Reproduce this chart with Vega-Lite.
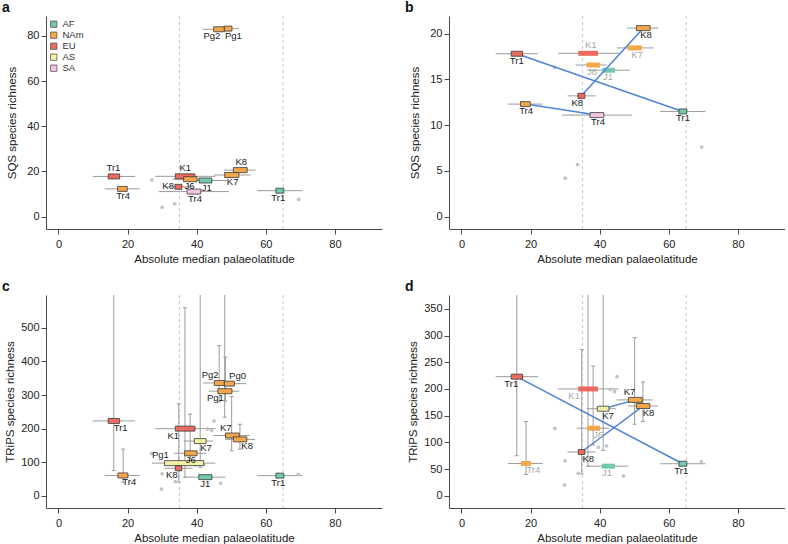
{
"$schema":"https://vega.github.io/schema/vega-lite/v6.json",
"background":"white",
"padding":{"left":2,"top":0,"right":0,"bottom":0},
"config":{"view":{"stroke":null},"font":"Liberation Sans",
 "axis":{"grid":false,"domainColor":"#4a4a4a","domainWidth":1,"tickColor":"#4a4a4a","tickSize":5,"labelColor":"#222","titleColor":"#222","labelFont":"Liberation Sans","titleFont":"Liberation Sans","labelFontSize":11,"titleFontSize":11.5,"titleFontWeight":"normal","labelFlush":false,"labelOverlap":false},
 "title":{"font":"Liberation Sans","fontSize":14,"fontWeight":"bold","color":"#111"},
 "text":{"font":"Liberation Sans"}},
"datasets":{
 "vref":[{"v":35},{"v":65}],
 "items":[
  {"p":"a","r":"EU","lab":"Tr1","y":17.8,"b1":14.4,"b2":17.7,"w1":9.9,"w2":22.2,"st":"h","lx":15.9,"pos":"above"},
  {"p":"a","r":"NAm","lab":"Tr4","y":12.3,"b1":17.1,"b2":19.9,"w1":13.4,"w2":23.5,"st":"h","lx":18.7,"pos":"below"},
  {"p":"a","r":"SA","lab":"Tr4","y":11.1,"b1":37.2,"b2":41.2,"w1":29.0,"w2":49.3,"st":"h","lx":39.5,"pos":"below"},
  {"p":"a","r":"AF","lab":"Tr1","y":11.5,"b1":62.9,"b2":65.2,"w1":57.5,"w2":70.6,"st":"h","lx":63.6,"pos":"below"},
  {"p":"a","r":"EU","lab":"K1","y":17.85,"b1":33.8,"b2":39.5,"w1":28.0,"w2":45.5,"st":"h","lx":36.7,"pos":"above"},
  {"p":"a","r":"NAm","lab":"J6","y":16.57,"b1":36.2,"b2":40.1,"w1":33.0,"w2":42.0,"st":"h","lx":37.9,"pos":"below"},
  {"p":"a","r":"AF","lab":"J1","y":16.0,"b1":40.7,"b2":44.4,"w1":36.4,"w2":48.7,"st":"h","lx":42.9,"pos":"below"},
  {"p":"a","r":"EU","lab":"K8","y":13.2,"b1":33.7,"b2":35.7,"w1":30.7,"w2":38.8,"st":"h","lx":33.7,"pos":"left"},
  {"p":"a","r":"NAm","lab":"K7","y":18.44,"b1":48.1,"b2":52.2,"w1":45.0,"w2":55.6,"st":"h","lx":50.4,"pos":"below"},
  {"p":"a","r":"NAm","lab":"K8","y":20.6,"b1":50.6,"b2":54.6,"w1":47.9,"w2":57.0,"st":"h","lx":52.9,"pos":"above"},
  {"p":"a","r":"NAm","lab":"Pg2","y":82.9,"b1":44.9,"b2":48.0,"w1":41.7,"w2":48.0,"st":"h","lx":44.4,"pos":"below"},
  {"p":"a","r":"NAm","lab":"Pg1","y":83.2,"b1":48.0,"b2":50.2,"w1":45.0,"w2":52.3,"st":"h","lx":50.6,"pos":"below"},

  {"p":"b","r":"EU","lab":"K1","y":17.85,"b1":33.8,"b2":39.5,"w1":28.0,"w2":45.5,"st":"f","lx":37.4,"pos":"above"},
  {"p":"b","r":"NAm","lab":"K7","y":18.44,"b1":48.1,"b2":52.2,"w1":45.0,"w2":55.6,"st":"f","lx":50.8,"pos":"below"},
  {"p":"b","r":"NAm","lab":"J6","y":16.57,"b1":36.2,"b2":40.1,"w1":33.0,"w2":42.0,"st":"f","lx":37.8,"pos":"below"},
  {"p":"b","r":"AF","lab":"J1","y":16.0,"b1":40.7,"b2":44.4,"w1":36.4,"w2":48.7,"st":"f","lx":42.4,"pos":"below"},
  {"p":"b","r":"EU","lab":"Tr1","y":17.8,"b1":14.4,"b2":17.7,"w1":9.9,"w2":22.2,"st":"h","lx":16.0,"pos":"below"},
  {"p":"b","r":"NAm","lab":"Tr4","y":12.3,"b1":17.1,"b2":19.9,"w1":13.4,"w2":23.5,"st":"h","lx":18.7,"pos":"below"},
  {"p":"b","r":"SA","lab":"Tr4","y":11.1,"b1":37.2,"b2":41.2,"w1":29.0,"w2":49.3,"st":"h","lx":39.5,"pos":"below"},
  {"p":"b","r":"AF","lab":"Tr1","y":11.5,"b1":62.9,"b2":65.2,"w1":57.5,"w2":70.6,"st":"h","lx":64.1,"pos":"below"},
  {"p":"b","r":"EU","lab":"K8","y":13.2,"b1":33.7,"b2":35.7,"w1":30.7,"w2":38.8,"st":"h","lx":33.5,"pos":"below"},
  {"p":"b","r":"NAm","lab":"K8","y":20.6,"b1":50.6,"b2":54.6,"w1":47.9,"w2":57.0,"st":"h","lx":53.4,"pos":"below"},

  {"p":"c","r":"EU","lab":"Tr1","y":223,"b1":14.4,"b2":17.7,"w1":9.9,"w2":22.2,"vx":16.0,"v1":75,"v2":620,"st":"h","lx":18.0,"pos":"below"},
  {"p":"c","r":"NAm","lab":"Tr4","y":60.5,"b1":17.2,"b2":20.1,"w1":13.4,"w2":23.5,"vx":18.7,"v1":40,"v2":139,"st":"h","lx":20.5,"pos":"below"},
  {"p":"c","r":"EU","lab":"K1","y":200,"b1":33.8,"b2":39.5,"w1":28.0,"w2":45.5,"vx":36.6,"v1":55,"v2":560,"st":"h","lx":33.2,"pos":"below"},
  {"p":"c","r":"AS","lab":"K7","y":163,"b1":39.3,"b2":42.7,"w1":36.2,"w2":44.7,"vx":41.0,"v1":85,"v2":620,"st":"h","lx":42.7,"pos":"below"},
  {"p":"c","r":"NAm","lab":"J6","y":126.5,"b1":36.5,"b2":40.1,"w1":33.4,"w2":42.7,"vx":38.1,"v1":95,"v2":243,"st":"h","lx":38.3,"pos":"below"},
  {"p":"c","r":"AS","lab":"Pg1","y":97.3,"b1":30.7,"b2":42.0,"w1":27.0,"w2":45.4,"st":"h","lx":29.5,"pos":"above"},
  {"p":"c","r":"EU","lab":"K8","y":82,"b1":33.8,"b2":35.7,"w1":30.7,"w2":38.8,"vx":34.8,"v1":41,"v2":274,"st":"h","lx":32.8,"pos":"below"},
  {"p":"c","r":"AF","lab":"J1","y":55.5,"b1":40.6,"b2":44.4,"w1":36.5,"w2":48.3,"st":"h","lx":42.5,"pos":"below"},
  {"p":"c","r":"NAm","lab":"K7","y":179.5,"b1":48.3,"b2":52.3,"w1":44.9,"w2":55.3,"vx":50.1,"v1":134,"v2":296,"st":"h","lx":48.4,"pos":"above"},
  {"p":"c","r":"NAm","lab":"K8","y":168,"b1":50.6,"b2":54.5,"w1":48.2,"w2":56.9,"vx":52.5,"v1":139,"v2":213,"st":"h","lx":54.6,"pos":"below"},
  {"p":"c","r":"AF","lab":"Tr1","y":60,"b1":62.9,"b2":65.2,"w1":57.5,"w2":70.6,"st":"h","lx":63.6,"pos":"below"},
  {"p":"c","r":"NAm","lab":"Pg2","y":336,"b1":45.1,"b2":48.0,"w1":41.8,"w2":48.2,"vx":46.5,"v1":280,"v2":447,"st":"h","lx":43.9,"pos":"above"},
  {"p":"c","r":"NAm","lab":"Pg0","y":334,"b1":48.0,"b2":50.9,"w1":46.3,"w2":54.3,"vx":48.1,"v1":234,"v2":620,"st":"h","lx":51.8,"pos":"above"},
  {"p":"c","r":"NAm","lab":"Pg1","y":311.5,"b1":46.1,"b2":50.2,"w1":43.5,"w2":52.3,"vx":48.3,"v1":282,"v2":413,"st":"h","lx":45.4,"pos":"below"},

  {"p":"d","r":"NAm","lab":"Tr4","y":60.5,"b1":17.2,"b2":20.1,"w1":13.4,"w2":23.5,"vx":18.7,"v1":40,"v2":139,"st":"f","lx":20.8,"pos":"below"},
  {"p":"d","r":"EU","lab":"K1","y":200,"b1":33.8,"b2":39.5,"w1":28.0,"w2":45.5,"vx":36.6,"v1":55,"v2":560,"st":"f","lx":32.6,"pos":"below"},
  {"p":"d","r":"NAm","lab":"J6","y":126.5,"b1":36.5,"b2":40.1,"w1":33.4,"w2":42.7,"vx":38.1,"v1":95,"v2":243,"st":"f","lx":39.6,"pos":"below"},
  {"p":"d","r":"AF","lab":"J1","y":55.5,"b1":40.6,"b2":44.4,"w1":36.5,"w2":48.3,"st":"f","lx":42.1,"pos":"below"},
  {"p":"d","r":"EU","lab":"Tr1","y":223,"b1":14.4,"b2":17.7,"w1":9.9,"w2":22.2,"vx":16.0,"v1":75,"v2":620,"st":"h","lx":14.4,"pos":"below"},
  {"p":"d","r":"EU","lab":"K8","y":82,"b1":33.8,"b2":35.7,"w1":30.7,"w2":38.8,"vx":34.8,"v1":41,"v2":274,"st":"h","lx":36.7,"pos":"below"},
  {"p":"d","r":"AS","lab":"K7","y":163,"b1":39.3,"b2":42.7,"w1":36.2,"w2":44.7,"vx":41.0,"v1":85,"v2":620,"st":"h","lx":42.4,"pos":"below"},
  {"p":"d","r":"NAm","lab":"K7","y":179.5,"b1":48.3,"b2":52.3,"w1":44.9,"w2":55.3,"vx":50.1,"v1":134,"v2":296,"st":"h","lx":48.6,"pos":"above"},
  {"p":"d","r":"NAm","lab":"K8","y":168,"b1":50.6,"b2":54.5,"w1":48.2,"w2":56.9,"vx":52.5,"v1":139,"v2":213,"st":"h","lx":54.1,"pos":"below"},
  {"p":"d","r":"AF","lab":"Tr1","y":60,"b1":62.9,"b2":65.2,"w1":57.5,"w2":70.6,"st":"h","lx":63.6,"pos":"below"}
 ],
 "pts":[
  {"g":"s","x":27.0,"y":16.3},{"g":"s","x":30.0,"y":4.2},{"g":"s","x":33.6,"y":5.7},{"g":"s","x":69.5,"y":7.6},
  {"g":"t","x":27.0,"y":126},{"g":"t","x":30.0,"y":65.5},{"g":"t","x":29.8,"y":20},{"g":"t","x":33.8,"y":42},
  {"g":"t","x":39.6,"y":91},{"g":"t","x":42.0,"y":93.5},{"g":"t","x":43.1,"y":199},{"g":"t","x":44.3,"y":195},
  {"g":"t","x":45.0,"y":223},{"g":"t","x":46.9,"y":37},{"g":"t","x":69.4,"y":64}
 ],
 "links":[
  {"p":"b","g":"Tr1","x":16.0,"y":17.8},{"p":"b","g":"Tr1","x":64.0,"y":11.5},
  {"p":"b","g":"Tr4","x":18.5,"y":12.3},{"p":"b","g":"Tr4","x":39.2,"y":11.1},
  {"p":"b","g":"K8","x":34.7,"y":13.2},{"p":"b","g":"K8","x":52.6,"y":20.6},
  {"p":"d","g":"Tr1","x":16.0,"y":223},{"p":"d","g":"Tr1","x":64.0,"y":60},
  {"p":"d","g":"K8","x":34.7,"y":82},{"p":"d","g":"K8","x":52.5,"y":168},
  {"p":"d","g":"K7","x":41.0,"y":163},{"p":"d","g":"K7","x":50.3,"y":179.5}
 ]
},
"columns":2,
"spacing":{"row":66,"column":67},
"bounds":"flush",
"resolve":{"scale":{"color":"independent"}},
"concat":[
 {"width":336,"height":213,
  "title":{"text":"a","anchor":"start","frame":"group","dx":-44,"offset":-10,"baseline":"alphabetic"},
  "layer":[
   {"data":{"name":"items"},"transform":[{"filter":"datum.p=='a'"}],"mark":{"type":"rule","color":"#9c9c9c","strokeWidth":1},
    "encoding":{"x":{"field":"w1","type":"quantitative","scale":{"domain":[-3.6,93.6],"nice":false,"zero":false},"axis":{"values":[0,20,40,60,80],"title":"Absolute median palaeolatitude","labelPadding":4,"titlePadding":4}},"x2":{"field":"w2"},
     "y":{"field":"y","type":"quantitative","scale":{"domain":[-3.24,86.56],"nice":false,"zero":false},"axis":{"values":[0,20,40,60,80],"title":"SQS species richness","labelPadding":2,"titlePadding":9}}}},
   {"data":{"name":"vref"},"mark":{"type":"rule","color":"#c8c8c8","strokeDash":[3,3],"strokeWidth":1},"encoding":{"x":{"field":"v","type":"quantitative","scale":{"domain":[-3.6,93.6],"nice":false,"zero":false},"axis":{"values":[0,20,40,60,80],"title":"Absolute median palaeolatitude","labelPadding":4,"titlePadding":4}}}},
   {"data":{"name":"pts"},"transform":[{"filter":"datum.g=='s'"}],"mark":{"type":"circle","size":14,"color":"#c4c4c4","opacity":1},
    "encoding":{"x":{"field":"x","type":"quantitative","scale":{"domain":[-3.6,93.6],"nice":false,"zero":false},"axis":{"values":[0,20,40,60,80],"title":"Absolute median palaeolatitude","labelPadding":4,"titlePadding":4}},"y":{"field":"y","type":"quantitative","scale":{"domain":[-3.24,86.56],"nice":false,"zero":false},"axis":{"values":[0,20,40,60,80],"title":"SQS species richness","labelPadding":2,"titlePadding":9}}}},
   {"data":{"name":"items"},"transform":[{"filter":"datum.p=='a' && datum.st=='h'"}],"mark":{"type":"bar","size":5,"stroke":"#3a3a3a","strokeWidth":0.8},
    "encoding":{"x":{"field":"b1","type":"quantitative","scale":{"domain":[-3.6,93.6],"nice":false,"zero":false},"axis":{"values":[0,20,40,60,80],"title":"Absolute median palaeolatitude","labelPadding":4,"titlePadding":4}},"x2":{"field":"b2"},"y":{"field":"y","type":"quantitative","scale":{"domain":[-3.24,86.56],"nice":false,"zero":false},"axis":{"values":[0,20,40,60,80],"title":"SQS species richness","labelPadding":2,"titlePadding":9}},
     "color":{"field":"r","type":"nominal","scale":{"domain":["AF","NAm","EU","AS","SA"],"range":["#72c9b2","#f5a64a","#ec6a60","#f2f0a4","#f3c6e1"]},
      "legend":{"title":null,"orient":"top-left","offset":3,"padding":0,"symbolType":"square","symbolSize":40,"symbolStrokeColor":"#555","symbolStrokeWidth":0.8,"labelFontSize":9.5,"labelColor":"#333","labelFont":"Liberation Sans","rowPadding":0,"clipHeight":10.4,"labelOffset":4}}}},
   {"data":{"name":"items"},"transform":[{"filter":"datum.p=='a' && datum.pos=='below'"}],"mark":{"type":"text","baseline":"top","dy":2,"fontSize":9.5},
    "encoding":{"x":{"field":"lx","type":"quantitative","scale":{"domain":[-3.6,93.6],"nice":false,"zero":false},"axis":{"values":[0,20,40,60,80],"title":"Absolute median palaeolatitude","labelPadding":4,"titlePadding":4}},"y":{"field":"y","type":"quantitative","scale":{"domain":[-3.24,86.56],"nice":false,"zero":false},"axis":{"values":[0,20,40,60,80],"title":"SQS species richness","labelPadding":2,"titlePadding":9}},"text":{"field":"lab"},"fill":{"field":"st","type":"nominal","scale":{"domain":["h","f"],"range":["#1a1a1a","#a8a8a8"]},"legend":null}}},
   {"data":{"name":"items"},"transform":[{"filter":"datum.p=='a' && datum.pos=='above'"}],"mark":{"type":"text","baseline":"bottom","dy":-3,"fontSize":9.5},
    "encoding":{"x":{"field":"lx","type":"quantitative","scale":{"domain":[-3.6,93.6],"nice":false,"zero":false},"axis":{"values":[0,20,40,60,80],"title":"Absolute median palaeolatitude","labelPadding":4,"titlePadding":4}},"y":{"field":"y","type":"quantitative","scale":{"domain":[-3.24,86.56],"nice":false,"zero":false},"axis":{"values":[0,20,40,60,80],"title":"SQS species richness","labelPadding":2,"titlePadding":9}},"text":{"field":"lab"},"fill":{"field":"st","type":"nominal","scale":{"domain":["h","f"],"range":["#1a1a1a","#a8a8a8"]},"legend":null}}},
   {"data":{"name":"items"},"transform":[{"filter":"datum.p=='a' && datum.pos=='left'"}],"mark":{"type":"text","align":"right","baseline":"middle","dx":-1,"dy":-1,"fontSize":9.5},
    "encoding":{"x":{"field":"lx","type":"quantitative","scale":{"domain":[-3.6,93.6],"nice":false,"zero":false},"axis":{"values":[0,20,40,60,80],"title":"Absolute median palaeolatitude","labelPadding":4,"titlePadding":4}},"y":{"field":"y","type":"quantitative","scale":{"domain":[-3.24,86.56],"nice":false,"zero":false},"axis":{"values":[0,20,40,60,80],"title":"SQS species richness","labelPadding":2,"titlePadding":9}},"text":{"field":"lab"},"fill":{"field":"st","type":"nominal","scale":{"domain":["h","f"],"range":["#1a1a1a","#a8a8a8"]},"legend":null}}}
  ]},
 {"width":336,"height":213,
  "title":{"text":"b","anchor":"start","frame":"group","dx":-44,"offset":-10,"baseline":"alphabetic"},
  "layer":[
   {"data":{"name":"items"},"transform":[{"filter":"datum.p=='b'"}],"mark":{"type":"rule","color":"#9c9c9c","strokeWidth":1},
    "encoding":{"x":{"field":"w1","type":"quantitative","scale":{"domain":[-3.6,93.6],"nice":false,"zero":false},"axis":{"values":[0,20,40,60,80],"title":"Absolute median palaeolatitude","labelPadding":4,"titlePadding":4}},"x2":{"field":"w2"},
     "y":{"field":"y","type":"quantitative","scale":{"domain":[-0.8,21.38],"nice":false,"zero":false},"axis":{"values":[0,5,10,15,20],"title":"SQS species richness","labelPadding":2,"titlePadding":9}}}},
   {"data":{"name":"vref"},"mark":{"type":"rule","color":"#c8c8c8","strokeDash":[3,3],"strokeWidth":1},"encoding":{"x":{"field":"v","type":"quantitative","scale":{"domain":[-3.6,93.6],"nice":false,"zero":false},"axis":{"values":[0,20,40,60,80],"title":"Absolute median palaeolatitude","labelPadding":4,"titlePadding":4}}}},
   {"data":{"name":"pts"},"transform":[{"filter":"datum.g=='s'"}],"mark":{"type":"circle","size":14,"color":"#c4c4c4","opacity":1},
    "encoding":{"x":{"field":"x","type":"quantitative","scale":{"domain":[-3.6,93.6],"nice":false,"zero":false},"axis":{"values":[0,20,40,60,80],"title":"Absolute median palaeolatitude","labelPadding":4,"titlePadding":4}},"y":{"field":"y","type":"quantitative","scale":{"domain":[-0.8,21.38],"nice":false,"zero":false},"axis":{"values":[0,5,10,15,20],"title":"SQS species richness","labelPadding":2,"titlePadding":9}}}},
   {"data":{"name":"items"},"transform":[{"filter":"datum.p=='b' && datum.st=='f'"}],"mark":{"type":"bar","size":5},
    "encoding":{"x":{"field":"b1","type":"quantitative","scale":{"domain":[-3.6,93.6],"nice":false,"zero":false},"axis":{"values":[0,20,40,60,80],"title":"Absolute median palaeolatitude","labelPadding":4,"titlePadding":4}},"x2":{"field":"b2"},"y":{"field":"y","type":"quantitative","scale":{"domain":[-0.8,21.38],"nice":false,"zero":false},"axis":{"values":[0,5,10,15,20],"title":"SQS species richness","labelPadding":2,"titlePadding":9}},
     "color":{"field":"r","type":"nominal","scale":{"domain":["AF","NAm","EU","AS","SA"],"range":["#72c9b2","#f5a64a","#ec6a60","#f2f0a4","#f3c6e1"]},"legend":null}}},
   {"data":{"name":"links"},"transform":[{"filter":"datum.p=='b'"}],"mark":{"type":"line","color":"#4d84d6","strokeWidth":1.5},
    "encoding":{"x":{"field":"x","type":"quantitative","scale":{"domain":[-3.6,93.6],"nice":false,"zero":false},"axis":{"values":[0,20,40,60,80],"title":"Absolute median palaeolatitude","labelPadding":4,"titlePadding":4}},"y":{"field":"y","type":"quantitative","scale":{"domain":[-0.8,21.38],"nice":false,"zero":false},"axis":{"values":[0,5,10,15,20],"title":"SQS species richness","labelPadding":2,"titlePadding":9}},"detail":{"field":"g"}}},
   {"data":{"name":"items"},"transform":[{"filter":"datum.p=='b' && datum.st=='h'"}],"mark":{"type":"bar","size":5,"stroke":"#3a3a3a","strokeWidth":0.8},
    "encoding":{"x":{"field":"b1","type":"quantitative","scale":{"domain":[-3.6,93.6],"nice":false,"zero":false},"axis":{"values":[0,20,40,60,80],"title":"Absolute median palaeolatitude","labelPadding":4,"titlePadding":4}},"x2":{"field":"b2"},"y":{"field":"y","type":"quantitative","scale":{"domain":[-0.8,21.38],"nice":false,"zero":false},"axis":{"values":[0,5,10,15,20],"title":"SQS species richness","labelPadding":2,"titlePadding":9}},
     "color":{"field":"r","type":"nominal","scale":{"domain":["AF","NAm","EU","AS","SA"],"range":["#72c9b2","#f5a64a","#ec6a60","#f2f0a4","#f3c6e1"]},"legend":null}}},
   {"data":{"name":"items"},"transform":[{"filter":"datum.p=='b' && datum.pos=='below'"}],"mark":{"type":"text","baseline":"top","dy":2,"fontSize":9.5},
    "encoding":{"x":{"field":"lx","type":"quantitative","scale":{"domain":[-3.6,93.6],"nice":false,"zero":false},"axis":{"values":[0,20,40,60,80],"title":"Absolute median palaeolatitude","labelPadding":4,"titlePadding":4}},"y":{"field":"y","type":"quantitative","scale":{"domain":[-0.8,21.38],"nice":false,"zero":false},"axis":{"values":[0,5,10,15,20],"title":"SQS species richness","labelPadding":2,"titlePadding":9}},"text":{"field":"lab"},"fill":{"field":"st","type":"nominal","scale":{"domain":["h","f"],"range":["#1a1a1a","#a8a8a8"]},"legend":null}}},
   {"data":{"name":"items"},"transform":[{"filter":"datum.p=='b' && datum.pos=='above'"}],"mark":{"type":"text","baseline":"bottom","dy":-3,"fontSize":9.5},
    "encoding":{"x":{"field":"lx","type":"quantitative","scale":{"domain":[-3.6,93.6],"nice":false,"zero":false},"axis":{"values":[0,20,40,60,80],"title":"Absolute median palaeolatitude","labelPadding":4,"titlePadding":4}},"y":{"field":"y","type":"quantitative","scale":{"domain":[-0.8,21.38],"nice":false,"zero":false},"axis":{"values":[0,5,10,15,20],"title":"SQS species richness","labelPadding":2,"titlePadding":9}},"text":{"field":"lab"},"fill":{"field":"st","type":"nominal","scale":{"domain":["h","f"],"range":["#1a1a1a","#a8a8a8"]},"legend":null}}}
  ]},
 {"width":336,"height":213,
  "title":{"text":"c","anchor":"start","frame":"group","dx":-44,"offset":-10,"baseline":"alphabetic"},
  "layer":[
   {"data":{"name":"items"},"transform":[{"filter":"datum.p=='c'"}],"mark":{"type":"rule","color":"#9c9c9c","strokeWidth":1},
    "encoding":{"x":{"field":"w1","type":"quantitative","scale":{"domain":[-3.6,93.6],"nice":false,"zero":false},"axis":{"values":[0,20,40,60,80],"title":"Absolute median palaeolatitude","labelPadding":4,"titlePadding":4}},"x2":{"field":"w2"},
     "y":{"field":"y","type":"quantitative","scale":{"domain":[-21.5,583.1],"nice":false,"zero":false},"axis":{"values":[0,100,200,300,400,500],"title":"TRiPS species richness","labelPadding":2,"titlePadding":5}}}},
   {"data":{"name":"vref"},"mark":{"type":"rule","color":"#c8c8c8","strokeDash":[3,3],"strokeWidth":1},"encoding":{"x":{"field":"v","type":"quantitative","scale":{"domain":[-3.6,93.6],"nice":false,"zero":false},"axis":{"values":[0,20,40,60,80],"title":"Absolute median palaeolatitude","labelPadding":4,"titlePadding":4}}}},
   {"data":{"name":"items"},"transform":[{"filter":"datum.p=='c' && isValid(datum.vx)"}],"mark":{"type":"rule","color":"#9c9c9c","strokeWidth":1,"clip":true},
    "encoding":{"x":{"field":"vx","type":"quantitative","scale":{"domain":[-3.6,93.6],"nice":false,"zero":false},"axis":{"values":[0,20,40,60,80],"title":"Absolute median palaeolatitude","labelPadding":4,"titlePadding":4}},"y":{"field":"v1","type":"quantitative","scale":{"domain":[-21.5,583.1],"nice":false,"zero":false},"axis":{"values":[0,100,200,300,400,500],"title":"TRiPS species richness","labelPadding":2,"titlePadding":5}},"y2":{"field":"v2"}}},
   {"data":{"name":"items"},"transform":[{"filter":"datum.p=='c' && isValid(datum.vx)"}],"mark":{"type":"tick","orient":"horizontal","size":4,"thickness":1,"color":"#9c9c9c","clip":true,"opacity":1},
    "encoding":{"x":{"field":"vx","type":"quantitative","scale":{"domain":[-3.6,93.6],"nice":false,"zero":false},"axis":{"values":[0,20,40,60,80],"title":"Absolute median palaeolatitude","labelPadding":4,"titlePadding":4}},"y":{"field":"v1","type":"quantitative","scale":{"domain":[-21.5,583.1],"nice":false,"zero":false},"axis":{"values":[0,100,200,300,400,500],"title":"TRiPS species richness","labelPadding":2,"titlePadding":5}}}},
   {"data":{"name":"items"},"transform":[{"filter":"datum.p=='c' && isValid(datum.vx)"}],"mark":{"type":"tick","orient":"horizontal","size":4,"thickness":1,"color":"#9c9c9c","clip":true,"opacity":1},
    "encoding":{"x":{"field":"vx","type":"quantitative","scale":{"domain":[-3.6,93.6],"nice":false,"zero":false},"axis":{"values":[0,20,40,60,80],"title":"Absolute median palaeolatitude","labelPadding":4,"titlePadding":4}},"y":{"field":"v2","type":"quantitative","scale":{"domain":[-21.5,583.1],"nice":false,"zero":false},"axis":{"values":[0,100,200,300,400,500],"title":"TRiPS species richness","labelPadding":2,"titlePadding":5}}}},
   {"data":{"name":"pts"},"transform":[{"filter":"datum.g=='t'"}],"mark":{"type":"circle","size":14,"color":"#c4c4c4","opacity":1},
    "encoding":{"x":{"field":"x","type":"quantitative","scale":{"domain":[-3.6,93.6],"nice":false,"zero":false},"axis":{"values":[0,20,40,60,80],"title":"Absolute median palaeolatitude","labelPadding":4,"titlePadding":4}},"y":{"field":"y","type":"quantitative","scale":{"domain":[-21.5,583.1],"nice":false,"zero":false},"axis":{"values":[0,100,200,300,400,500],"title":"TRiPS species richness","labelPadding":2,"titlePadding":5}}}},
   {"data":{"name":"items"},"transform":[{"filter":"datum.p=='c' && datum.st=='h'"}],"mark":{"type":"bar","size":5,"stroke":"#3a3a3a","strokeWidth":0.8},
    "encoding":{"x":{"field":"b1","type":"quantitative","scale":{"domain":[-3.6,93.6],"nice":false,"zero":false},"axis":{"values":[0,20,40,60,80],"title":"Absolute median palaeolatitude","labelPadding":4,"titlePadding":4}},"x2":{"field":"b2"},"y":{"field":"y","type":"quantitative","scale":{"domain":[-21.5,583.1],"nice":false,"zero":false},"axis":{"values":[0,100,200,300,400,500],"title":"TRiPS species richness","labelPadding":2,"titlePadding":5}},
     "color":{"field":"r","type":"nominal","scale":{"domain":["AF","NAm","EU","AS","SA"],"range":["#72c9b2","#f5a64a","#ec6a60","#f2f0a4","#f3c6e1"]},"legend":null}}},
   {"data":{"name":"items"},"transform":[{"filter":"datum.p=='c' && datum.pos=='below'"}],"mark":{"type":"text","baseline":"top","dy":2,"fontSize":9.5},
    "encoding":{"x":{"field":"lx","type":"quantitative","scale":{"domain":[-3.6,93.6],"nice":false,"zero":false},"axis":{"values":[0,20,40,60,80],"title":"Absolute median palaeolatitude","labelPadding":4,"titlePadding":4}},"y":{"field":"y","type":"quantitative","scale":{"domain":[-21.5,583.1],"nice":false,"zero":false},"axis":{"values":[0,100,200,300,400,500],"title":"TRiPS species richness","labelPadding":2,"titlePadding":5}},"text":{"field":"lab"},"fill":{"field":"st","type":"nominal","scale":{"domain":["h","f"],"range":["#1a1a1a","#a8a8a8"]},"legend":null}}},
   {"data":{"name":"items"},"transform":[{"filter":"datum.p=='c' && datum.pos=='above'"}],"mark":{"type":"text","baseline":"bottom","dy":-3,"fontSize":9.5},
    "encoding":{"x":{"field":"lx","type":"quantitative","scale":{"domain":[-3.6,93.6],"nice":false,"zero":false},"axis":{"values":[0,20,40,60,80],"title":"Absolute median palaeolatitude","labelPadding":4,"titlePadding":4}},"y":{"field":"y","type":"quantitative","scale":{"domain":[-21.5,583.1],"nice":false,"zero":false},"axis":{"values":[0,100,200,300,400,500],"title":"TRiPS species richness","labelPadding":2,"titlePadding":5}},"text":{"field":"lab"},"fill":{"field":"st","type":"nominal","scale":{"domain":["h","f"],"range":["#1a1a1a","#a8a8a8"]},"legend":null}}}
  ]},
 {"width":336,"height":213,
  "title":{"text":"d","anchor":"start","frame":"group","dx":-44,"offset":-10,"baseline":"alphabetic"},
  "layer":[
   {"data":{"name":"items"},"transform":[{"filter":"datum.p=='d'"}],"mark":{"type":"rule","color":"#9c9c9c","strokeWidth":1},
    "encoding":{"x":{"field":"w1","type":"quantitative","scale":{"domain":[-3.6,93.6],"nice":false,"zero":false},"axis":{"values":[0,20,40,60,80],"title":"Absolute median palaeolatitude","labelPadding":4,"titlePadding":4}},"x2":{"field":"w2"},
     "y":{"field":"y","type":"quantitative","scale":{"domain":[-13.5,366.5],"nice":false,"zero":false},"axis":{"values":[0,50,100,150,200,250,300,350],"title":"TRiPS species richness","labelPadding":2,"titlePadding":5}}}},
   {"data":{"name":"vref"},"mark":{"type":"rule","color":"#c8c8c8","strokeDash":[3,3],"strokeWidth":1},"encoding":{"x":{"field":"v","type":"quantitative","scale":{"domain":[-3.6,93.6],"nice":false,"zero":false},"axis":{"values":[0,20,40,60,80],"title":"Absolute median palaeolatitude","labelPadding":4,"titlePadding":4}}}},
   {"data":{"name":"items"},"transform":[{"filter":"datum.p=='d' && isValid(datum.vx)"}],"mark":{"type":"rule","color":"#9c9c9c","strokeWidth":1,"clip":true},
    "encoding":{"x":{"field":"vx","type":"quantitative","scale":{"domain":[-3.6,93.6],"nice":false,"zero":false},"axis":{"values":[0,20,40,60,80],"title":"Absolute median palaeolatitude","labelPadding":4,"titlePadding":4}},"y":{"field":"v1","type":"quantitative","scale":{"domain":[-13.5,366.5],"nice":false,"zero":false},"axis":{"values":[0,50,100,150,200,250,300,350],"title":"TRiPS species richness","labelPadding":2,"titlePadding":5}},"y2":{"field":"v2"}}},
   {"data":{"name":"items"},"transform":[{"filter":"datum.p=='d' && isValid(datum.vx)"}],"mark":{"type":"tick","orient":"horizontal","size":4,"thickness":1,"color":"#9c9c9c","clip":true,"opacity":1},
    "encoding":{"x":{"field":"vx","type":"quantitative","scale":{"domain":[-3.6,93.6],"nice":false,"zero":false},"axis":{"values":[0,20,40,60,80],"title":"Absolute median palaeolatitude","labelPadding":4,"titlePadding":4}},"y":{"field":"v1","type":"quantitative","scale":{"domain":[-13.5,366.5],"nice":false,"zero":false},"axis":{"values":[0,50,100,150,200,250,300,350],"title":"TRiPS species richness","labelPadding":2,"titlePadding":5}}}},
   {"data":{"name":"items"},"transform":[{"filter":"datum.p=='d' && isValid(datum.vx)"}],"mark":{"type":"tick","orient":"horizontal","size":4,"thickness":1,"color":"#9c9c9c","clip":true,"opacity":1},
    "encoding":{"x":{"field":"vx","type":"quantitative","scale":{"domain":[-3.6,93.6],"nice":false,"zero":false},"axis":{"values":[0,20,40,60,80],"title":"Absolute median palaeolatitude","labelPadding":4,"titlePadding":4}},"y":{"field":"v2","type":"quantitative","scale":{"domain":[-13.5,366.5],"nice":false,"zero":false},"axis":{"values":[0,50,100,150,200,250,300,350],"title":"TRiPS species richness","labelPadding":2,"titlePadding":5}}}},
   {"data":{"name":"pts"},"transform":[{"filter":"datum.g=='t'"}],"mark":{"type":"circle","size":14,"color":"#c4c4c4","opacity":1},
    "encoding":{"x":{"field":"x","type":"quantitative","scale":{"domain":[-3.6,93.6],"nice":false,"zero":false},"axis":{"values":[0,20,40,60,80],"title":"Absolute median palaeolatitude","labelPadding":4,"titlePadding":4}},"y":{"field":"y","type":"quantitative","scale":{"domain":[-13.5,366.5],"nice":false,"zero":false},"axis":{"values":[0,50,100,150,200,250,300,350],"title":"TRiPS species richness","labelPadding":2,"titlePadding":5}}}},
   {"data":{"name":"items"},"transform":[{"filter":"datum.p=='d' && datum.st=='f'"}],"mark":{"type":"bar","size":5},
    "encoding":{"x":{"field":"b1","type":"quantitative","scale":{"domain":[-3.6,93.6],"nice":false,"zero":false},"axis":{"values":[0,20,40,60,80],"title":"Absolute median palaeolatitude","labelPadding":4,"titlePadding":4}},"x2":{"field":"b2"},"y":{"field":"y","type":"quantitative","scale":{"domain":[-13.5,366.5],"nice":false,"zero":false},"axis":{"values":[0,50,100,150,200,250,300,350],"title":"TRiPS species richness","labelPadding":2,"titlePadding":5}},
     "color":{"field":"r","type":"nominal","scale":{"domain":["AF","NAm","EU","AS","SA"],"range":["#72c9b2","#f5a64a","#ec6a60","#f2f0a4","#f3c6e1"]},"legend":null}}},
   {"data":{"name":"links"},"transform":[{"filter":"datum.p=='d'"}],"mark":{"type":"line","color":"#4d84d6","strokeWidth":1.5},
    "encoding":{"x":{"field":"x","type":"quantitative","scale":{"domain":[-3.6,93.6],"nice":false,"zero":false},"axis":{"values":[0,20,40,60,80],"title":"Absolute median palaeolatitude","labelPadding":4,"titlePadding":4}},"y":{"field":"y","type":"quantitative","scale":{"domain":[-13.5,366.5],"nice":false,"zero":false},"axis":{"values":[0,50,100,150,200,250,300,350],"title":"TRiPS species richness","labelPadding":2,"titlePadding":5}},"detail":{"field":"g"}}},
   {"data":{"name":"items"},"transform":[{"filter":"datum.p=='d' && datum.st=='h'"}],"mark":{"type":"bar","size":5,"stroke":"#3a3a3a","strokeWidth":0.8},
    "encoding":{"x":{"field":"b1","type":"quantitative","scale":{"domain":[-3.6,93.6],"nice":false,"zero":false},"axis":{"values":[0,20,40,60,80],"title":"Absolute median palaeolatitude","labelPadding":4,"titlePadding":4}},"x2":{"field":"b2"},"y":{"field":"y","type":"quantitative","scale":{"domain":[-13.5,366.5],"nice":false,"zero":false},"axis":{"values":[0,50,100,150,200,250,300,350],"title":"TRiPS species richness","labelPadding":2,"titlePadding":5}},
     "color":{"field":"r","type":"nominal","scale":{"domain":["AF","NAm","EU","AS","SA"],"range":["#72c9b2","#f5a64a","#ec6a60","#f2f0a4","#f3c6e1"]},"legend":null}}},
   {"data":{"name":"items"},"transform":[{"filter":"datum.p=='d' && datum.pos=='below'"}],"mark":{"type":"text","baseline":"top","dy":2,"fontSize":9.5},
    "encoding":{"x":{"field":"lx","type":"quantitative","scale":{"domain":[-3.6,93.6],"nice":false,"zero":false},"axis":{"values":[0,20,40,60,80],"title":"Absolute median palaeolatitude","labelPadding":4,"titlePadding":4}},"y":{"field":"y","type":"quantitative","scale":{"domain":[-13.5,366.5],"nice":false,"zero":false},"axis":{"values":[0,50,100,150,200,250,300,350],"title":"TRiPS species richness","labelPadding":2,"titlePadding":5}},"text":{"field":"lab"},"fill":{"field":"st","type":"nominal","scale":{"domain":["h","f"],"range":["#1a1a1a","#a8a8a8"]},"legend":null}}},
   {"data":{"name":"items"},"transform":[{"filter":"datum.p=='d' && datum.pos=='above'"}],"mark":{"type":"text","baseline":"bottom","dy":-3,"fontSize":9.5},
    "encoding":{"x":{"field":"lx","type":"quantitative","scale":{"domain":[-3.6,93.6],"nice":false,"zero":false},"axis":{"values":[0,20,40,60,80],"title":"Absolute median palaeolatitude","labelPadding":4,"titlePadding":4}},"y":{"field":"y","type":"quantitative","scale":{"domain":[-13.5,366.5],"nice":false,"zero":false},"axis":{"values":[0,50,100,150,200,250,300,350],"title":"TRiPS species richness","labelPadding":2,"titlePadding":5}},"text":{"field":"lab"},"fill":{"field":"st","type":"nominal","scale":{"domain":["h","f"],"range":["#1a1a1a","#a8a8a8"]},"legend":null}}}
  ]}
]
}
